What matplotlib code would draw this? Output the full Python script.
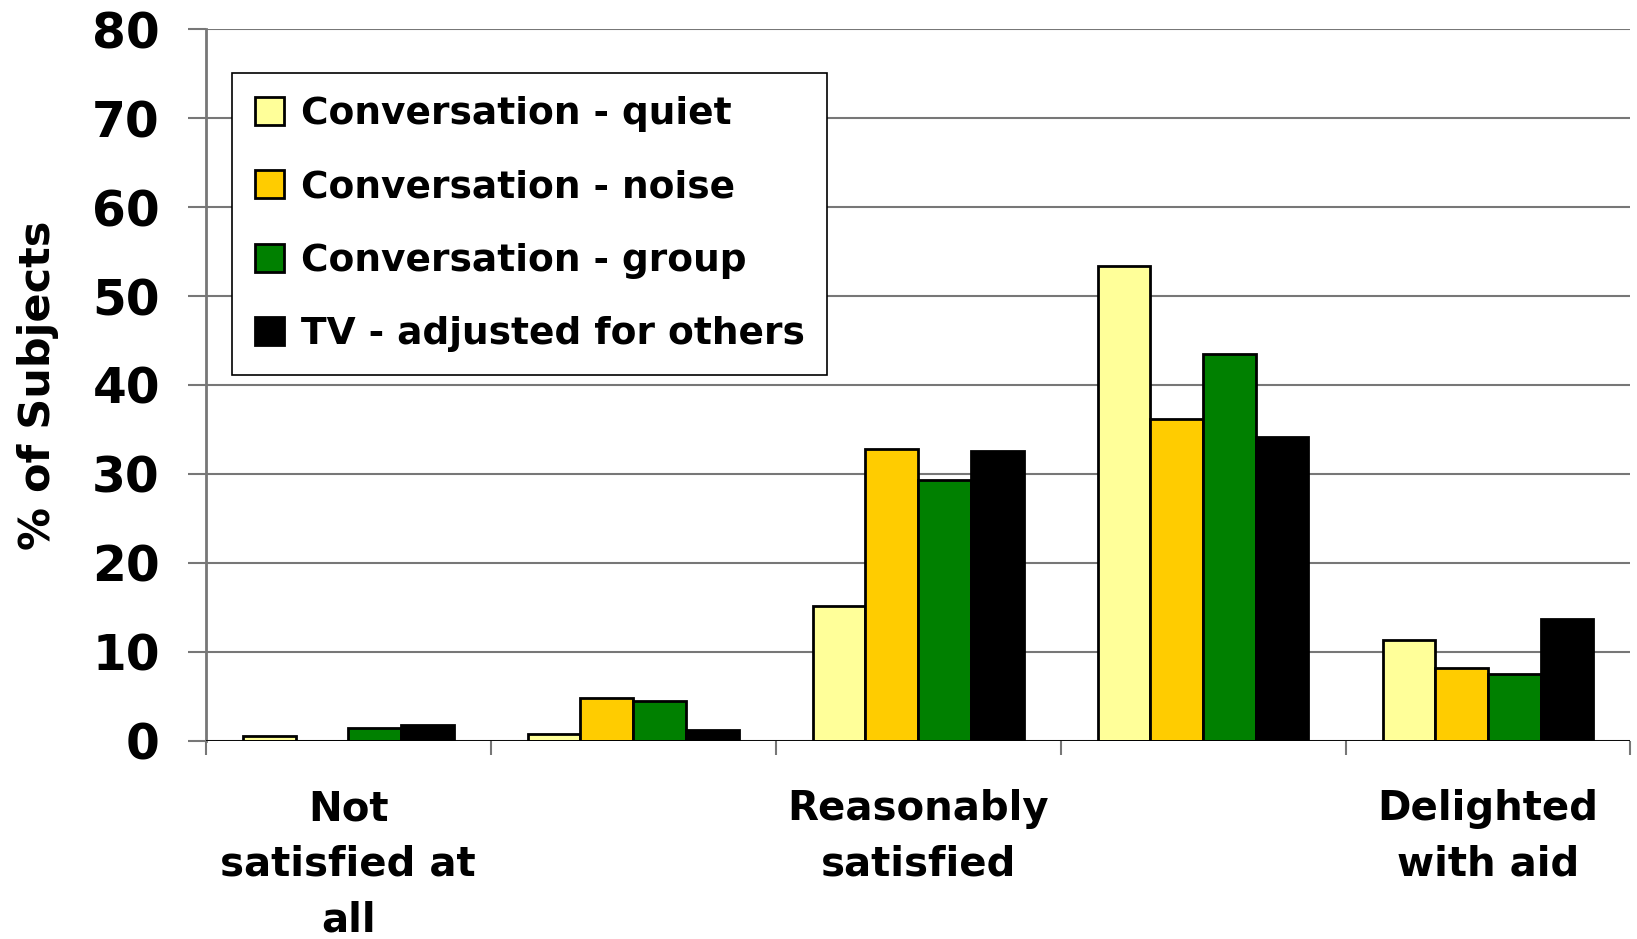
import numpy as np
import matplotlib
matplotlib.use("Agg")
import matplotlib.pyplot as plt

plt.rcParams['font.family'] = ['DejaVu Sans']
plt.rcParams['font.weight'] = 'bold'

categories = ["Not\nsatisfied at\nall", "", "Reasonably\nsatisfied", "", "Delighted\nwith aid"]
series = ["Conversation - quiet", "Conversation - noise",
          "Conversation - group", "TV - adjusted for others"]
quiet = [0.5, 0.8, 15.2, 53.4, 11.3]
noise = [0.0, 4.8, 32.8, 36.2, 8.2]
group = [1.5, 4.5, 29.3, 43.5, 7.5]
tv = [1.8, 1.2, 32.6, 34.1, 13.7]
colors = ["#FFFF99", "#FFCC00", "#008000", "#000000"]

fig = plt.figure(figsize=(16.37, 9.39), dpi=100)
ax = fig.add_axes([0.1257, 0.211, 0.8703, 0.758])

x = np.arange(len(categories))
w = 0.185
for k, (vals, c, lab) in enumerate(zip([quiet, noise, group, tv], colors, series)):
    ax.bar(x + (k - 1.5) * w, vals, w, color=c, edgecolor="black",
           linewidth=2, label=lab, zorder=3)

ax.set_xlim(-0.5, len(categories) - 0.5)
ax.set_ylim(0, 80)
ax.set_yticks(range(0, 81, 10))
ax.yaxis.grid(True, color="#777777", linewidth=1.5, zorder=0)
ax.axhline(0, color="black", linewidth=2, zorder=4)

# category boundaries as major ticks, names on minor ticks
ax.set_xticks(np.arange(-0.5, len(categories), 1.0))
ax.set_xticklabels([])
ax.set_xticks(x, minor=True)
ax.set_xticklabels(categories, minor=True, fontsize=29, fontweight="bold",
                   linespacing=1.5, va="top")
ax.tick_params(axis="x", which="minor", length=0, pad=35)
ax.tick_params(axis="x", which="major", length=10, width=1.5, color="#777777")
ax.tick_params(axis="y", length=13, width=1.5, color="#777777",
               labelsize=35, pad=20)
for t in ax.get_yticklabels():
    t.set_fontweight("bold")

for s in ["top", "right", "bottom"]:
    ax.spines[s].set_visible(False)
ax.spines["left"].set_color("#777777")
ax.spines["left"].set_linewidth(2)

ax.set_ylabel("% of Subjects", fontsize=31, fontweight="bold")
ax.yaxis.set_label_coords(-0.103, 0.5)

leg = ax.legend(loc="upper left", bbox_to_anchor=(0.0185, 0.938),
                borderaxespad=0, prop={"weight": "bold", "size": 27},
                handlelength=0.78, handleheight=0.78, handletextpad=0.45,
                labelspacing=1.0, borderpad=0.6, fancybox=False,
                framealpha=1, edgecolor="black")
leg.get_frame().set_linewidth(1.2)
leg.set_zorder(5)

fig.savefig("out.png", dpi=100)
